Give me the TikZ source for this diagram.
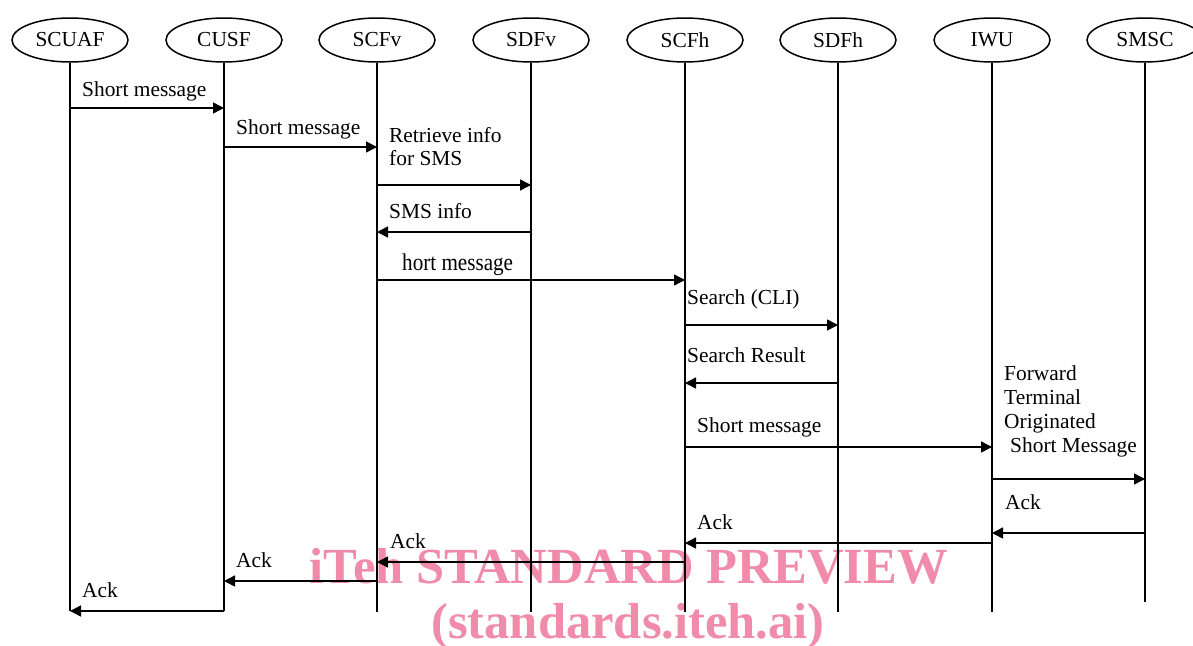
\documentclass[tikz,border=0pt]{standalone}
\usepackage{fontspec}
\setmainfont{Liberation Serif}
\usetikzlibrary{arrows.meta,shapes.geometric}
\definecolor{wmpink}{HTML}{F08CAA}

\begin{document}
\begin{tikzpicture}[x=1pt,y=-1pt,
font=\fontsize{21.4}{24}\selectfont,
actor/.style={draw,ellipse,line width=1.5pt,minimum width=116pt,minimum height=44pt,inner sep=0pt},
life/.style={line width=1.5pt},
msg/.style={-{Triangle[length=11pt,width=11pt]},line width=1.5pt},
lbl/.style={anchor=base west,inner sep=0pt,align=left},
wm/.style={text=wmpink,font=\fontsize{50.6}{56}\selectfont\bfseries}]
\useasboundingbox (0,0) rectangle (1193,645);
% watermark behind everything
\node[wm,anchor=base] (wm1) at (629,583) {iTeh STANDARD PREVIEW};
\node[wm,anchor=base] (wm2) at (628,638) {(standards.iteh.ai)};
% functional entities
\node[actor] (scuaf) at (70,40) {SCUAF};
\node[actor] (cusf) at (224,40) {CUSF};
\node[actor] (scfv) at (377,40) {SCFv};
\node[actor] (sdfv) at (531,40) {SDFv};
\node[actor] (scfh) at (685,40) {SCFh};
\node[actor] (sdfh) at (838,40) {SDFh};
\node[actor] (iwu) at (992,40) {IWU};
\node[actor] (smsc) at (1145,40) {SMSC};
% lifelines
\coordinate (scuaf-e) at (70,611);
\coordinate (cusf-e) at (224,611);
\coordinate (scfv-e) at (377,612);
\coordinate (sdfv-e) at (531,612);
\coordinate (scfh-e) at (685,612);
\coordinate (sdfh-e) at (838,612);
\coordinate (iwu-e) at (992,612);
\coordinate (smsc-e) at (1145,602);
\draw[life] (scuaf)--(scuaf-e);\draw[life] (cusf)--(cusf-e);
\draw[life] (scfv)--(scfv-e);\draw[life] (sdfv)--(sdfv-e);
\draw[life] (scfh)--(scfh-e);\draw[life] (sdfh)--(sdfh-e);
\draw[life] (iwu)--(iwu-e);\draw[life] (smsc)--(smsc-e);
% messages
\draw[msg] (scuaf |- 0,108) -- (cusf |- 0,108);
\node[lbl] (t1) at (82,96) {Short message};
\draw[msg] (cusf |- 0,147) -- (scfv |- 0,147);
\node[lbl] (t2) at (236,134) {Short message};
\draw[msg] (scfv |- 0,185) -- (sdfv |- 0,185);
\node[lbl,font=\fontsize{21.4}{23}\selectfont] (t3) at (389,165) {Retrieve info\\for SMS};
\draw[msg] (sdfv |- 0,232) -- (scfv |- 0,232);
\node[lbl] (t4) at (389,218) {SMS info};
\draw[msg] (scfv |- 0,280) -- (scfh |- 0,280);
\node[lbl] (t5) at (402,270) {\scalebox{0.88}[1]{\fontsize{24}{26}\selectfont hort message}};
\draw[msg] (scfh |- 0,325) -- (sdfh |- 0,325);
\node[lbl] (t6) at (687,304) {Search (CLI)};
\draw[msg] (sdfh |- 0,383) -- (scfh |- 0,383);
\node[lbl] (t7) at (687,362) {Search Result};
\draw[msg] (scfh |- 0,447) -- (iwu |- 0,447);
\node[lbl] (t8) at (697,432) {Short message};
\draw[msg] (iwu |- 0,479) -- (smsc |- 0,479);
\node[lbl] (t9) at (1004,452) {Forward\\Terminal\\Originated\\\hspace*{6pt}Short Message};
\draw[msg] (smsc |- 0,533) -- (iwu |- 0,533);
\node[lbl] (t10) at (1005,509) {Ack};
\draw[msg] (iwu |- 0,543) -- (scfh |- 0,543);
\node[lbl] (t11) at (697,529) {Ack};
\draw[msg] (scfh |- 0,562) -- (scfv |- 0,562);
\node[lbl] (t12) at (390,548) {Ack};
\draw[msg] (scfv |- 0,581) -- (cusf |- 0,581);
\node[lbl] (t13) at (236,567) {Ack};
\draw[msg] (cusf |- 0,611) -- (scuaf |- 0,611);
\node[lbl] (t14) at (82,597) {Ack};
\end{tikzpicture}
\end{document}
